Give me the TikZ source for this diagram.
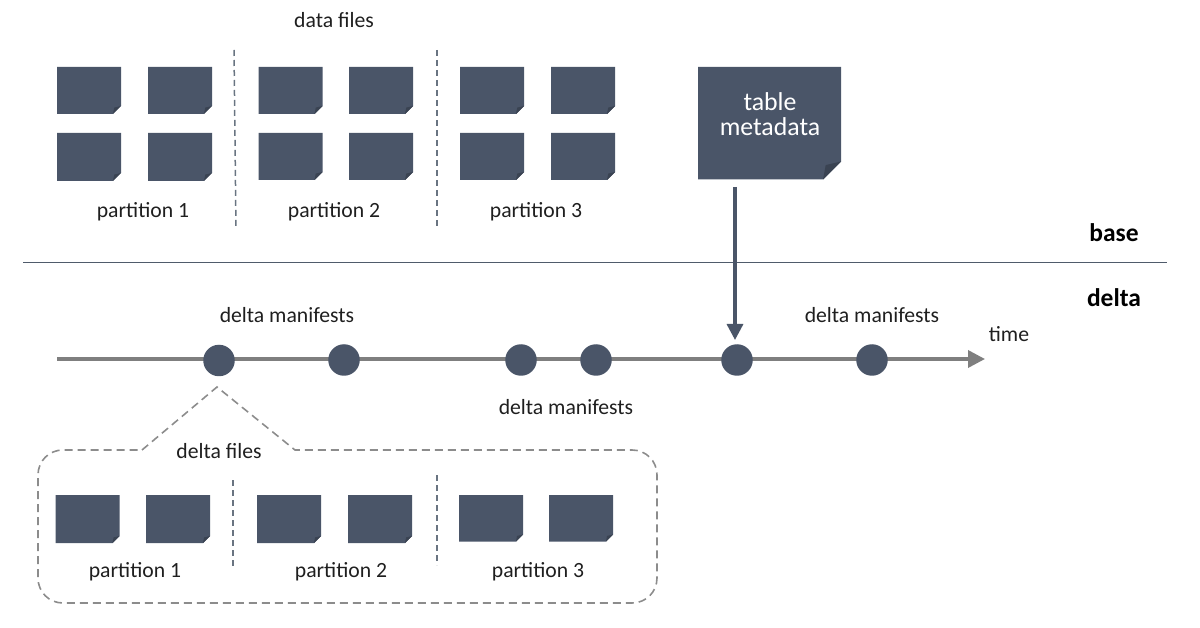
\documentclass[tikz,border=0pt]{standalone}
\usepackage{fontspec}
\setmainfont{Carlito}
\usetikzlibrary{arrows.meta}
\definecolor{slatefill}{HTML}{4A5568}
\definecolor{foldcol}{HTML}{3A4352}
\definecolor{linegray}{HTML}{7F7F7F}
\definecolor{rulecol}{HTML}{4F5B6B}
\newcommand{\filesheet}[5]{% x0,y0,x1,y1,fold
  \fill[slatefill] (#1,#2) -- (#3,#2) -- (#3,#4-#5) -- (#3-#5,#4) -- (#1,#4) -- cycle;
  \fill[foldcol] (#3,#4-#5) -- (#3-#5,#4) -- (#3-#5*0.85,#4-#5*0.8) -- cycle;
}
\tikzset{
  lab/.style={font=\fontsize{21.7}{24}\selectfont, text=black!88, inner sep=0pt, anchor=center},
  sect/.style={font=\fontsize{25.5}{28}\selectfont\bfseries, text=black, inner sep=0pt, anchor=center},
  evt/.style={circle, fill=slatefill, minimum size=31.5, inner sep=0pt},
  divider/.style={draw=rulecol!85, line width=1.5, dash pattern=on 6 off 4},
  callout/.style={draw=black!45, line width=1.6, dash pattern=on 8 off 5},
}
\begin{document}
\begin{tikzpicture}[x=1pt,y=-1pt]
\useasboundingbox (0,0) rectangle (1200,628);
% data files
\filesheet{57}{67}{121}{114}{8}
\filesheet{148}{67}{212}{114}{8}
\filesheet{57}{133}{121}{181}{8}
\filesheet{148}{133}{212}{181}{8}
\filesheet{258.5}{67}{322.5}{114}{8}
\filesheet{349}{67}{413}{114}{8}
\filesheet{258.5}{133}{322.5}{180}{8}
\filesheet{349}{133}{413}{180}{8}
\filesheet{460}{67}{524}{114}{8}
\filesheet{551}{67}{615}{114}{8}
\filesheet{460}{133}{524}{180}{8}
\filesheet{551}{133}{615}{180}{8}
\coordinate (da) at (234,50); \coordinate (db) at (236,229);
\coordinate (dc) at (437,50); \coordinate (dd) at (437,229);
\draw[divider] (da) -- (db);
\draw[divider] (dc) -- (dd);
\node[lab] (datafiles) at (334,20) {data files};
\node[lab] (p1) at (143,212) {partition 1};
\node[lab] (p2) at (334,212) {partition 2};
\node[lab] (p3) at (536,212) {partition 3};
% table metadata
\filesheet{698}{67}{841}{179.5}{18}
\node[font=\fontsize{25.8}{25}\selectfont, text=white, align=center, inner sep=0pt] (meta) at (770,114) {table\\metadata};
% base / delta
\coordinate (ruleL) at (23,263); \coordinate (ruleR) at (1167,263);
\draw[rulecol, line width=1] (ruleL) -- (ruleR);
\node[sect] (base) at (1114,233) {base};
\node[sect] (delta) at (1114,298) {delta};
% timeline
\coordinate (tstart) at (57,359); \coordinate (tend) at (985,359);
\draw[linegray, line width=3.5, -{Triangle[length=17,width=17]}] (tstart) -- (tend);
\node[evt] (e1) at (219,360.5) {};
\node[evt] (e2) at (344,360) {};
\node[evt] (e3) at (521,360) {};
\node[evt] (e4) at (596,360) {};
\node[evt] (e5) at (737,360) {};
\node[evt] (e6) at (872,360) {};
\coordinate (astart) at (735,187);
\draw[slatefill, line width=3.3, -{Triangle[length=16,width=16]}] (astart) -- (735,340);
\node[lab] (m1) at (287,315) {delta manifests};
\node[lab] (m2) at (872,315) {delta manifests};
\node[lab] (m3) at (566,407) {delta manifests};
\node[lab] (time) at (1009,334) {time};
% callout
\draw[callout] (142,450) -- (217,387) -- (295,450) -- (632,450)
  .. controls (646,450) and (657,461) .. (657,475) -- (657,578)
  .. controls (657,592) and (646,603) .. (632,603) -- (63,603)
  .. controls (49,603) and (38,592) .. (38,578) -- (38,475)
  .. controls (38,461) and (49,450) .. (63,450) -- cycle;
\node[lab] (deltafiles) at (219,451) {delta files};
% delta files
\filesheet{55.5}{495}{119.5}{543}{7}
\filesheet{146}{495}{210}{543}{7}
\filesheet{257}{495}{321}{543}{7}
\filesheet{348}{495}{412}{543}{7}
\filesheet{459}{495}{523}{541.5}{7}
\filesheet{549}{495}{613}{541.5}{7}
\coordinate (de) at (233,480); \coordinate (df) at (233,567);
\coordinate (dg) at (437,475); \coordinate (dh) at (437,565);
\draw[divider] (de) -- (df);
\draw[divider] (dg) -- (dh);
\node[lab] (q1) at (135,572) {partition 1};
\node[lab] (q2) at (341,572) {partition 2};
\node[lab] (q3) at (538,572) {partition 3};
\end{tikzpicture}
\end{document}
